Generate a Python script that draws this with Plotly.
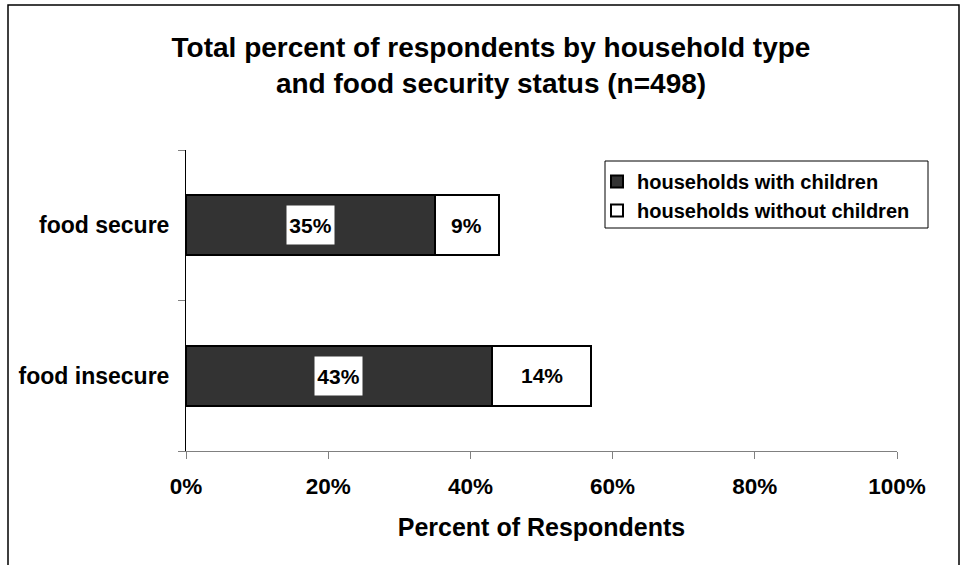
import plotly.graph_objects as go

categories = ["food insecure", "food secure"]
with_children = [43, 35]
without_children = [14, 9]
series_names = ["households with children", "households without children"]
x_ticks = [0, 20, 40, 60, 80, 100]
x_tick_labels = ["0%", "20%", "40%", "60%", "80%", "100%"]

FONT = "Liberation Sans, Arial, sans-serif"

fig = go.Figure()
fig.add_trace(go.Bar(
    y=categories, x=with_children, orientation="h", name="<b>" + series_names[0] + "</b>",
    marker=dict(color="#333333", line=dict(color="black", width=2)),
))
fig.add_trace(go.Bar(
    y=categories, x=without_children, orientation="h", name="<b>" + series_names[1] + "</b>",
    marker=dict(color="white", line=dict(color="black", width=2)),
))

annotations = []
for cat, a, b in zip(categories, with_children, without_children):
    annotations.append(dict(x=a / 2, y=cat, xref="x", yref="y", text=f"<b>{a}%</b>",
                            showarrow=False, bgcolor="white",
                            font=dict(family=FONT, size=21, color="black"),
                            width=43, height=34, borderpad=2))
    annotations.append(dict(x=a + b / 2, y=cat, xref="x", yref="y", text=f"<b>{b}%</b>",
                            showarrow=False, bgcolor="white",
                            font=dict(family=FONT, size=21, color="black"),
                            borderpad=3))

L, R, T, B = 186, 63, 150, 114
W, H = 960, 565
pw, ph = W - L - R, H - T - B

def px_x(px):
    return (px - L) / pw

def px_y(py):
    return (H - B - py) / ph

fig.update_layout(
    width=W, height=H,
    margin=dict(l=L, r=R, t=T, b=B),
    paper_bgcolor="white", plot_bgcolor="white",
    barmode="stack", bargap=0.6,
    font=dict(family=FONT, size=16, color="black"),
    title=dict(
        text="<b>Total percent of respondents by household type<br>and food security status (n=498)</b>",
        x=491 / W, xanchor="center",
        y=1 - 57 / H, yanchor="middle",
        font=dict(family=FONT, size=28, color="black"),
    ),
    showlegend=True,
    legend=dict(
        x=px_x(597), y=px_y(162), xanchor="left", yanchor="top",
        borderwidth=0, bgcolor="rgba(0,0,0,0)",
        traceorder="normal",
        font=dict(family=FONT, size=20, color="black"),
        tracegroupgap=0,
    ),
    xaxis=dict(
        range=[0, 100], tickvals=x_ticks, ticktext=[f"<b>{t}</b>" for t in x_tick_labels],
        showgrid=False, zeroline=False, automargin=False,
        showline=True, linecolor="#808080", linewidth=1,
        ticks="outside", ticklen=7, tickcolor="#808080",
        tickfont=dict(family=FONT, size=22.5, color="black"),
        ticklabelstandoff=8,
        title=dict(text="<b>Percent of Respondents</b>", standoff=20,
                   font=dict(family=FONT, size=25, color="black")),
    ),
    yaxis=dict(
        categoryorder="array", categoryarray=categories,
        tickvals=categories, ticktext=[f"<b>{c}</b>" for c in categories],
        showgrid=False, zeroline=False, automargin=False,
        showline=True, linecolor="black", linewidth=1,
        ticks="outside", ticklen=7, tickcolor="#808080", tickson="boundaries",
        tickfont=dict(family=FONT, size=23, color="black"),
        ticklabelstandoff=11,
    ),
    annotations=annotations,
    shapes=[
        dict(type="rect", xref="paper", yref="paper",
             x0=px_x(8), x1=px_x(959), y0=px_y(570), y1=px_y(5),
             line=dict(color="black", width=1.5), fillcolor="rgba(0,0,0,0)",
             layer="below"),
        dict(type="rect", xref="paper", yref="paper",
             x0=px_x(605), x1=px_x(928), y0=px_y(228), y1=px_y(161),
             line=dict(color="black", width=1), fillcolor="white",
             layer="below"),
    ],
)

fig.write_html("out.html")
